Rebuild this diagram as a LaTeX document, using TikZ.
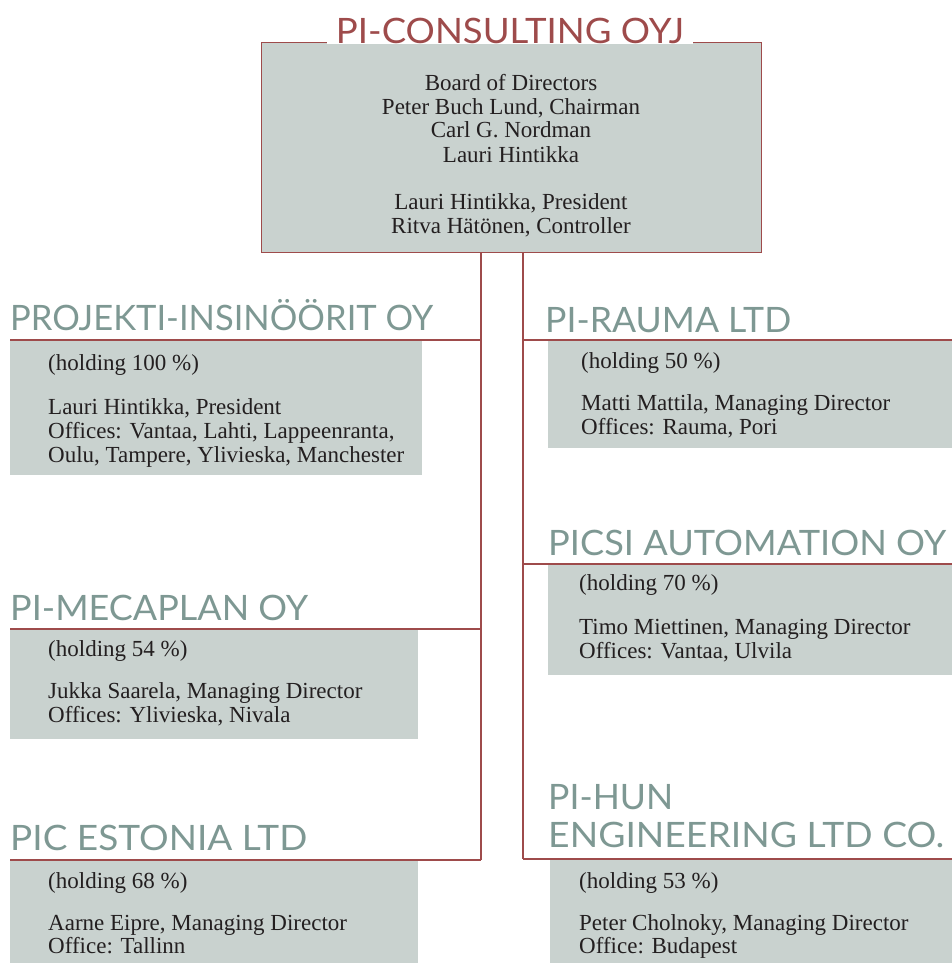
\documentclass[tikz,border=0pt]{standalone}
\usepackage{fontspec}
\usepackage{graphicx}
\setmainfont{Liberation Serif}
\newfontfamily\titlefont{Lato}
\newcommand\fitto[2]{\resizebox{#1}{\height}{#2}}
\definecolor{maroon}{HTML}{9E4B4B}
\definecolor{sage}{HTML}{7E9893}
\definecolor{boxfill}{HTML}{C9D2CF}
\definecolor{ink}{HTML}{231F20}
\tikzset{
  link/.style={draw=maroon, line width=2pt},
  subbox/.style={fill=boxfill, anchor=north west, inner sep=0pt, outer sep=0pt},
  topbox/.style={fill=boxfill, draw=maroon, line width=1pt, anchor=north west, inner sep=0pt, outer sep=0pt},
  headline/.style={font=\titlefont\fontsize{35}{38}\selectfont, text=sage, anchor=base west, inner sep=0pt},
  tophead/.style={font=\titlefont\fontsize{35}{38}\selectfont, text=maroon, anchor=base, fill=white, inner ysep=0pt, inner xsep=9pt, text depth=0pt},
  body/.style={font=\fontsize{23}{24}\selectfont, text=ink, anchor=base west, inner sep=0pt},
  topbody/.style={font=\fontsize{23}{24}\selectfont, text=ink, anchor=base, inner sep=0pt},
}
\begin{document}
\begin{tikzpicture}[x=1pt,y=-1pt]
\useasboundingbox (0,0) rectangle (952,963);
% top box
\node[topbox, minimum width=500pt, minimum height=209pt] (top) at (261,43) {};
\node[tophead] (toptitle) at (510,43.6) {\fitto{348pt}{PI-CONSULTING OYJ}};
\node[topbody] (t1) at (511,91) {Board of Directors};
\node[topbody] (t2) at (511,115) {Peter Buch Lund, Chairman};
\node[topbody] (t3) at (511,138) {Carl G. Nordman};
\node[topbody] (t4) at (511,162) {Lauri Hintikka};
\node[topbody] (t5) at (511,209) {Lauri Hintikka, President};
\node[topbody] (t6) at (511,233) {Ritva Hätönen, Controller};

% corner coordinates of the underlines
\coordinate (pjL) at (10,340);  \coordinate (pjR) at (481,340);
\coordinate (meL) at (10,629);  \coordinate (meR) at (481,629);
\coordinate (esL) at (10,860);  \coordinate (esR) at (481,860);
\coordinate (raL) at (523,340); \coordinate (raR) at (952,340);
\coordinate (psL) at (523,564); \coordinate (psR) at (952,564);
\coordinate (phL) at (523,859); \coordinate (phR) at (952,859);

% boxes
\node[subbox, minimum width=412pt, minimum height=134pt] (pjbox) at (10,341) {};
\node[subbox, minimum width=408pt, minimum height=109pt] (mebox) at (10,630) {};
\node[subbox, minimum width=408pt, minimum height=102pt] (esbox) at (10,861) {};
\node[subbox, minimum width=404pt, minimum height=107pt] (rabox) at (548,341) {};
\node[subbox, minimum width=404pt, minimum height=110pt] (psbox) at (548,565) {};
\node[subbox, minimum width=402pt, minimum height=103pt] (phbox) at (550,860) {};

% connectors
\draw[link] (top.south -| pjR) -- (esR);
\draw[link] (top.south -| raL) -- (phL);
\draw[link] (pjL) -- (pjR);
\draw[link] (meL) -- (meR);
\draw[link] (esL) -- (esR);
\draw[link] (raL) -- (raR);
\draw[link] (psL) -- (psR);
\draw[link] (phL) -- (phR);

% headings
\node[headline] (pjh) at (10,330) {\fitto{423pt}{PROJEKTI-INSINÖÖRIT OY}};
\node[headline] (meh) at (10,620) {\fitto{298pt}{PI-MECAPLAN OY}};
\node[headline] (esh) at (10,850) {\fitto{297pt}{PIC ESTONIA LTD}};
\node[headline] (rah) at (545,332) {\fitto{246pt}{PI-RAUMA LTD}};
\node[headline] (psh) at (548,555) {\fitto{398pt}{PICSI AUTOMATION OY}};
\node[headline] (ph1) at (548,809) {\fitto{125pt}{PI-HUN}};
\node[headline] (ph2) at (548,847) {\fitto{396pt}{ENGINEERING LTD CO.}};

% body texts
\node[body] (pj1) at (48,370) {(holding 100 \%)};
\node[body] (pj2) at (48,414) {Lauri Hintikka, President};
\node[body] (pj3) at (48,438) {Offices: Vantaa, Lahti, Lappeenranta,};
\node[body] (pj4) at (48,462) {Oulu, Tampere, Ylivieska, Manchester};

\node[body] (me1) at (48,656) {(holding 54 \%)};
\node[body] (me2) at (48,698) {Jukka Saarela, Managing Director};
\node[body] (me3) at (48,722) {Offices: Ylivieska, Nivala};

\node[body] (es1) at (48,888) {(holding 68 \%)};
\node[body] (es2) at (48,930) {Aarne Eipre, Managing Director};
\node[body] (es3) at (48,953) {Office: Tallinn};

\node[body] (ra1) at (581,368) {(holding 50 \%)};
\node[body] (ra2) at (581,410) {Matti Mattila, Managing Director};
\node[body] (ra3) at (581,434) {Offices: Rauma, Pori};

\node[body] (ps1) at (579,590) {(holding 70 \%)};
\node[body] (ps2) at (579,634) {Timo Miettinen, Managing Director};
\node[body] (ps3) at (579,658) {Offices: Vantaa, Ulvila};

\node[body] (ph3) at (579,888) {(holding 53 \%)};
\node[body] (ph4) at (579,930) {Peter Cholnoky, Managing Director};
\node[body] (ph5) at (579,953) {Office: Budapest};
\end{tikzpicture}
\end{document}
